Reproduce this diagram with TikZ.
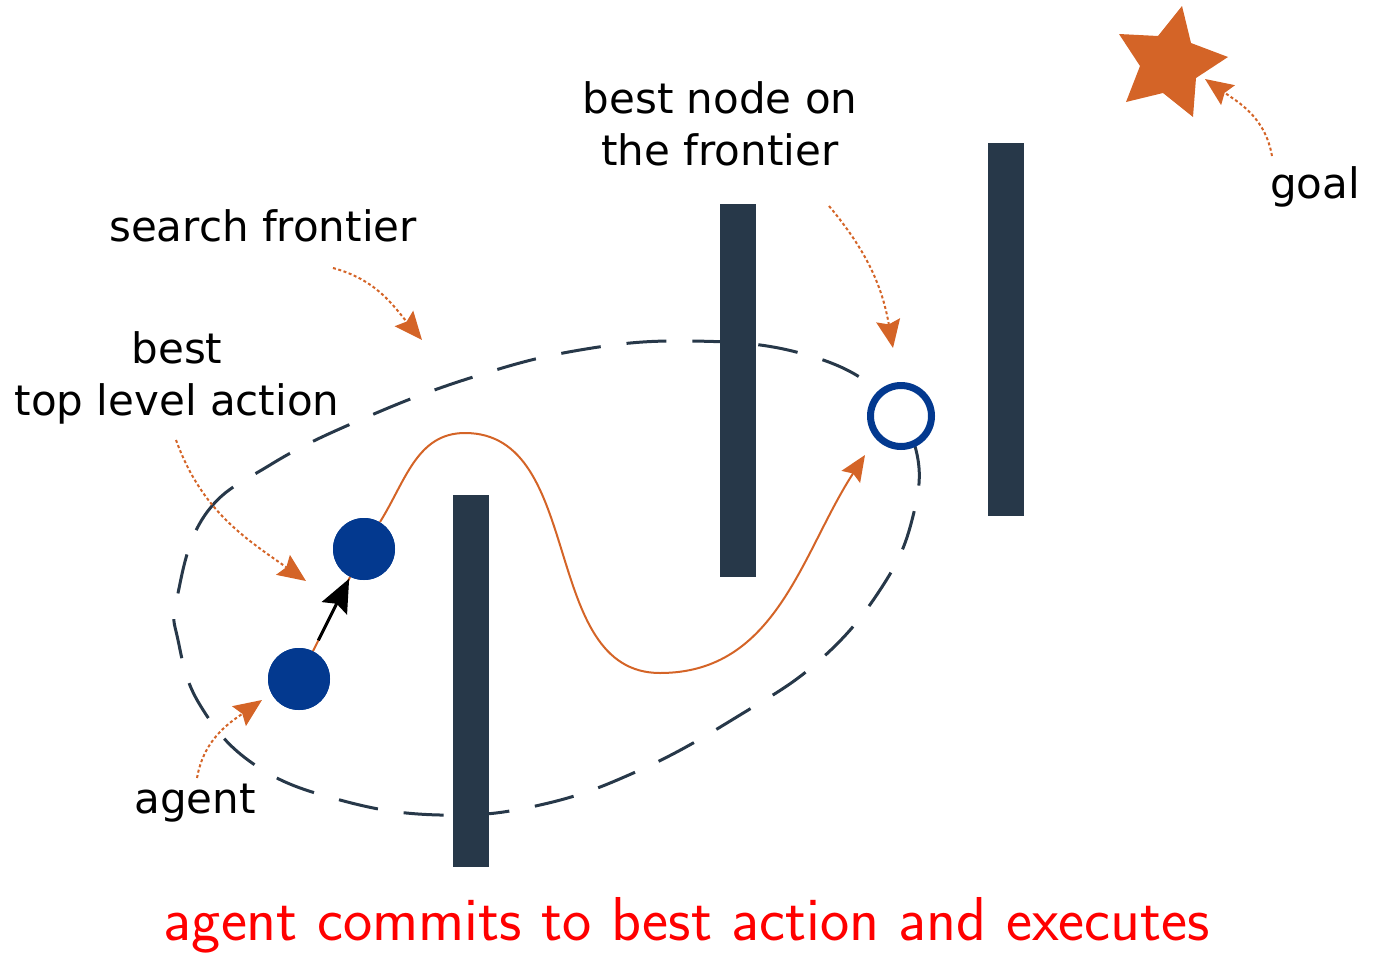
\documentclass[tikz,border=0pt]{standalone}
\usepackage{fontspec}
\setmainfont{DejaVu Sans}
\usetikzlibrary{arrows.meta}
\definecolor{wallc}{HTML}{273849}
\definecolor{orng}{HTML}{D46427}
\definecolor{bluec}{HTML}{03398F}
\begin{document}
\begin{tikzpicture}[x=1pt,y=-1pt,
  wall/.style={fill=wallc,draw=none},
  lbl/.style={font=\fontsize{42}{52}\selectfont,align=center,inner sep=0pt},
  note/.style={draw=orng,line width=2pt,dash pattern=on 3pt off 2.5pt,-{Stealth[length=28pt,width=24pt,inset=4pt,fill=orng]}},
  dot/.style={circle,fill=bluec,minimum size=62pt,inner sep=0pt}]
\useasboundingbox (0,0) rectangle (1373,953);
% frontier
\draw[wallc,line width=3pt,dash pattern=on 40pt off 26pt] plot[smooth cycle,tension=0.7] coordinates {
(177,598) (205,515) (270,465) (360,420) (470,378) (580,350) (690,341) (800,353) (880,392) (916,450) (912,520) (880,590) (820,660) (740,715) (640,770) (540,805) (440,815) (340,800) (255,765) (200,705) (178,640)};
% walls
\fill[wall] (453,495) rectangle (489,867);
\fill[wall] (720,204) rectangle (756,577);
\fill[wall] (988,143) rectangle (1024,516);
% star
\fill[orng] (1182,6) -- (1191,43) -- (1228,57) -- (1196,78) -- (1193,117) -- (1163,93) -- (1126,102) -- (1140,66) -- (1119,34) -- (1158,36) -- cycle;
\coordinate (goaltip) at (1205,79);
% nodes
\node[dot] (agent) at (299,679) {};
\node[dot] (best) at (364,549) {};
\node[circle,draw=bluec,fill=white,line width=7pt,minimum size=61pt,inner sep=0pt] (bn) at (901,416) {};
% orange path
\coordinate (pathend) at (865,455);
\draw[orng,line width=2pt] (agent) -- (best);
\draw[orng,line width=2pt,-{Stealth[length=26pt,width=22pt,inset=4pt]}] (best.center) ++(16,-27) to[out=58,in=180] (465,433) to[out=0,in=180] (660,673) to[out=0,in=237] (pathend);
\node[dot] at (agent) {};
\node[dot] at (best) {};
% black arrow
\draw[black,line width=3pt,-{Stealth[length=33pt,width=28pt,inset=5pt]},shorten <=12pt,shorten >=2pt] (agent) -- (best);
% labels
\node[lbl] (lbn) at (720,124) {best node on\\the frontier};
\node[lbl] (lsf) at (263,226) {search frontier};
\node[lbl] (lbt) at (177,378) {best\\top level action};
\node[lbl] (lag) at (195,803) {agent};
\node[lbl] (lgo) at (1315,187) {goal};
\node[inner sep=0pt,text=red,font=\sffamily\fontsize{62}{68}\selectfont] (cap) at (687,925) {agent commits to best action and executes};
% annotation arrows
\coordinate (a1s) at (333,268); \coordinate (a1e) at (422,340);
\coordinate (a2s) at (176,440); \coordinate (a2e) at (306,581);
\coordinate (a3s) at (197,778); \coordinate (a3e) at (262,700);
\coordinate (a4s) at (829,206); \coordinate (a4e) at (893,348);
\coordinate (a5s) at (1272,156);
\draw[note] (a1s) to[out=-15,in=130] (a1e);
\draw[note] (a2s) to[out=-70,in=145] (a2e);
\draw[note] (a3s) to[out=80,in=215] (a3e);
\draw[note] (a4s) to[out=-50,in=100] (a4e);
\draw[note] (a5s) to[out=100,in=-35] (goaltip);
\end{tikzpicture}
\end{document}
